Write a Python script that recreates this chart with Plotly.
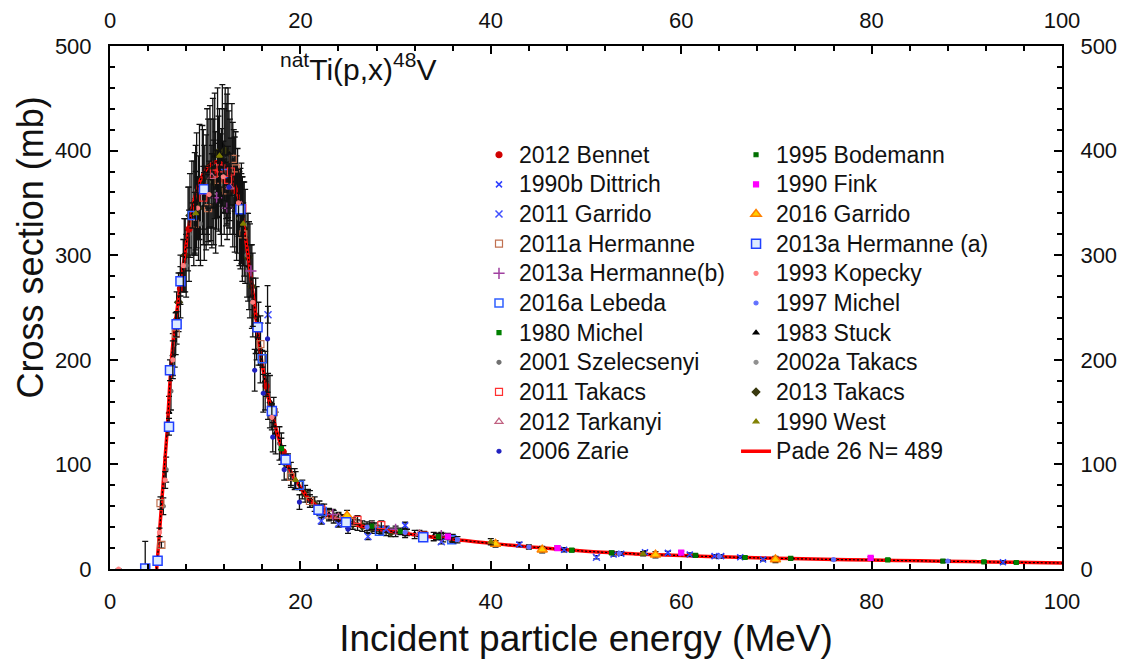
import plotly.graph_objects as go

# ---------------- data (energy MeV, cross section mb, error mb) ----------------
pade_E = [4.9, 5.2, 5.5, 5.75, 6.0, 6.25, 6.5, 6.75, 7.0, 7.5, 8.0, 8.5, 9.0, 9.5, 10.0,
          10.5, 11.0, 11.5, 12.0, 12.5, 13.0, 13.5, 14.0, 14.5, 15.0, 15.5, 16.0, 16.5,
          17.0, 17.5, 18.0, 19.0, 20.0, 21.0, 22.0, 23.0, 24.0, 25.0, 27.0, 30.0, 33.0,
          36.0, 40.0, 45.0, 50.0, 55.0, 60.0, 65.0, 70.0, 75.0, 80.0, 85.0, 90.0, 95.0, 100.0]
pade_xs = [0, 35, 72, 102, 132, 172, 205, 228, 245, 278, 310, 338, 358, 372, 381,
           386, 389, 389, 386, 380, 369, 356, 330, 300, 265, 228, 195, 170,
           150, 132, 117, 93, 78, 66, 58, 51, 47, 44, 40, 35.5, 31.5,
           28.5, 24.5, 20.5, 17, 14.5, 12.8, 11.4, 10.2, 9.3, 8.6, 7.8, 7.1, 6.4, 5.7]

bennet_E = [7.4, 8.3, 10.0, 11.3, 12.0, 13.1, 16.4, 18.2]
bennet_xs = [268, 325, 365, 380, 372, 362, 175, 112]
bennet_err = [15, 18, 20, 20, 20, 20, 10, 6]

bodemann_E = [27.5, 34.5, 52.7, 61.5, 71.5, 87.5]
bodemann_xs = [41, 31, 15.5, 13, 10.2, 7.6]
bodemann_err = [3, 3, 1.5, 1.2, 1, 1]

dittrich_E = [31.0, 43.0, 47.7, 52.9, 53.7, 56.2, 58.6, 60.9, 63.5, 64.2, 66.2, 68.6, 93.8]
dittrich_xs = [41.7, 23.4, 18.4, 13.9, 14.6, 16.1, 15.4, 13.8, 12.3, 12.3, 11.3, 9.1, 6.5]
dittrich_err = [3, 2, 2, 1.5, 1.5, 1.5, 1.5, 1.5, 1.5, 1.5, 1.2, 1.2, 1.5]

fink_E = [35.5, 47.0, 60.0, 79.9]
fink_xs = [31, 20, 15.6, 10.7]
fink_err = [3, 2, 1.5, 1]

garrido11_E = [16.6, 22.2, 24.0, 27.1, 29.0, 34.8, 51.1]
garrido11_xs = [243, 46, 43, 31, 38, 26, 11.3]
garrido11_err = [8, 3, 3, 3, 3, 2, 1.5]

garrido16_E = [24.9, 40.5, 45.4, 57.3, 69.9]
garrido16_xs = [51, 24, 18.5, 13.6, 9.1]
garrido16_err = [5, 3, 3, 3, 3]

herm11a_E = [5.3, 5.4, 6.9, 8.9, 10.3, 11.4, 12.2, 12.9, 13.2, 14.0, 15.8, 17.2, 19.0, 21.0, 23.0, 25.5]
herm11a_xs = [63, 23, 225, 330, 345, 372, 362, 392, 383, 320, 215, 150, 88, 65, 52, 45]
herm11a_err = [6, 3, 20, 30, 32, 35, 34, 35, 35, 30, 20, 14, 8, 6, 5, 4]

herm13a_E = [3.7, 5.0, 6.2, 6.3, 7.0, 7.4, 9.87, 13.7, 15.5, 17.0, 18.45, 21.9, 24.8, 32.9]
herm13a_xs = [0.5, 8, 136, 190, 234, 275, 363, 344, 231, 151, 104.5, 56.7, 44.8, 30.4]
herm13a_err = [26, 3, 8, 10, 12, 14, 16, 15, 10, 7, 5, 3, 3, 2]

herm13b_E = [11.2, 12.3, 14.8, 23.4, 30.0, 34.8]
herm13b_xs = [355, 345, 285, 52, 38, 32]
herm13b_err = [30, 30, 25, 5, 3, 3]

kopecky_E = [0.9, 5.2, 5.8, 6.6, 7.7, 9.2, 10.4, 11.9, 13.5, 15.0, 17.0]
kopecky_xs = [0, 35, 85, 200, 290, 345, 358, 375, 350, 255, 145]
kopecky_err = [0, 4, 8, 18, 25, 30, 32, 34, 32, 23, 12]

lebeda_E = [8.65, 12.0, 16.0, 19.9, 22.3, 28.3, 35.9]
lebeda_xs = [338, 378, 201, 80, 55, 36, 28]
lebeda_err = [12, 13, 8, 4, 3, 2, 2]

michel97_E = [27.0, 31.0, 36.5, 44.0, 53.5, 64.0, 76.0, 88.0]
michel97_xs = [40, 35, 28, 21, 15, 12, 9, 7.5]
michel97_err = [3, 3, 3, 2, 1.5, 1.5, 1, 1]

michel80_E = [18.0, 25.0, 30.5, 48.5, 66.7, 81.7, 91.8, 95.2]
michel80_xs = [115, 45, 36, 18, 11, 8.8, 6.9, 6.2]
michel80_err = [10, 4, 3, 1.5, 1, 1, 0.8, 0.8]

stuck_E = [6.2, 6.6, 7.0, 7.4, 7.8, 8.2, 8.6, 9.0, 9.4, 9.8, 10.2, 10.6, 11.0, 11.4, 11.8,
           12.2, 12.4, 12.6, 13.0, 13.4, 13.8, 14.2, 14.6, 15.0, 15.4, 15.8, 16.3, 16.8, 17.4,
           18.0, 18.7, 19.4, 20.2, 21.0, 22.0, 23.0, 24.0, 25.0, 26.0, 27.0, 28.0, 29.0,
           30.0, 31.0, 32.0, 33.0, 34.0, 35.0, 36.0]
stuck_xs = [150, 205, 240, 270, 300, 325, 345, 355, 370, 365, 380, 372, 395, 378, 405,
            390, 398, 375, 370, 352, 340, 318, 290, 262, 235, 210, 180, 160, 130,
            115, 98, 86, 76, 67, 58, 52, 47, 44, 42, 40, 38, 36,
            35, 34, 33, 32, 31, 30, 29]
stuck_err = [15, 20, 25, 30, 35, 40, 45, 50, 55, 55, 60, 58, 60, 55, 58,
             55, 62, 55, 50, 50, 48, 45, 42, 40, 35, 32, 28, 25, 20,
             15, 12, 10, 9, 8, 7, 6, 6, 5, 5, 5, 4, 4,
             4, 4, 4, 4, 4, 4, 4]

szel_E = [5.6, 5.9, 6.4, 6.8, 8.0, 8.3, 8.8, 9.1, 9.5, 9.9, 10.3, 10.7, 10.8, 11.1, 11.6,
          12.0, 12.3, 12.8, 13.1, 13.6, 13.9, 14.4, 14.7, 15.6, 16.6, 17.8, 19.0]
szel_xs = [60, 95, 170, 215, 290, 320, 340, 362, 330, 350, 370, 352, 388, 360, 368,
           380, 392, 395, 358, 335, 325, 300, 285, 225, 165, 120, 90]
szel_err = [8, 12, 18, 22, 30, 45, 50, 55, 40, 55, 60, 45, 62, 58, 48,
            60, 62, 50, 55, 45, 50, 40, 45, 30, 22, 16, 12]

tak02_E = [20.8, 24.3, 27.8, 31.2, 34.3, 36.0]
tak02_xs = [70, 48, 40, 35, 31, 29]
tak02_err = [6, 4, 4, 3, 3, 3]

tak11_E = [9.8, 10.9, 11.6, 12.4, 12.7, 13.9, 22.2, 26.0, 28.5, 33.0]
tak11_xs = [355, 378, 383, 372, 380, 345, 57, 47, 42, 32]
tak11_err = [30, 32, 33, 32, 32, 30, 5, 4, 4, 3]

tak13_E = [7.2, 7.9, 8.4, 8.9, 9.3, 9.7, 10.1, 10.5, 10.9, 11.3, 11.7, 12.1, 12.5, 12.9,
           13.3, 13.7, 14.1, 14.5, 14.9, 15.3, 20.5, 21.5, 22.5, 23.5, 24.5, 25.5, 26.5,
           27.5, 28.5, 29.5]
tak13_xs = [255, 300, 338, 350, 345, 372, 360, 385, 370, 398, 365, 400, 382, 360,
            345, 335, 325, 298, 270, 242, 72, 62, 56, 50, 46, 43, 41,
            39, 37, 35]
tak13_err = [28, 35, 40, 48, 50, 52, 55, 58, 60, 62, 56, 60, 56, 52,
             50, 48, 45, 42, 40, 36, 8, 7, 6, 6, 5, 5, 5,
             5, 4, 4]

tarkanyi_E = [10.7, 12.6, 13.8, 24.0, 27.5, 32.5]
tarkanyi_xs = [375, 365, 348, 50, 42, 34]
tarkanyi_err = [30, 32, 30, 4, 4, 3]

west_E = [9.0, 11.5, 14.0, 19.5, 40.0, 56.0]
west_xs = [340, 395, 330, 85, 26, 14.5]
west_err = [40, 45, 40, 8, 3, 2]

zarie_E = [12.5, 15.2, 16.1, 16.55, 17.1, 18.3, 19.9, 25.0]
zarie_xs = [365, 190, 168, 220, 126, 95, 64, 38]
zarie_err = [20, 20, 18, 51, 14, 10, 7, 4]

x_ticks = [0, 20, 40, 60, 80, 100]
y_ticks = [0, 100, 200, 300, 400, 500]

FONT = "Liberation Sans, Arial, sans-serif"
ERRC = "#111111"

fig = go.Figure()


def add_set(name, E, xs, err, symbol, size, color, legend, rank, fill=None, lw=1.2):
    mk = dict(symbol=symbol, size=size, color=fill if fill else color,
              line=dict(color=color, width=lw))
    fig.add_trace(go.Scatter(
        x=E, y=xs, mode="markers", marker=mk,
        error_y=dict(type="data", array=err, color=ERRC, thickness=1.3, width=3),
        name='<span style="font-size:23px">' + name + '</span>',
        legend=legend, legendrank=rank, cliponaxis=True))


# black, dense sets first (bottom layer)
add_set("1983 Stuck", stuck_E, stuck_xs, stuck_err, "triangle-up", 5, "#000000", "legend2", 7)
add_set("2013 Takacs", tak13_E, tak13_xs, tak13_err, "diamond", 6, "#3a3a10", "legend2", 9)
add_set("2001 Szelecsenyi", szel_E, szel_xs, szel_err, "circle", 4, "#707070", "legend", 8)
add_set("2002a Takacs", tak02_E, tak02_xs, tak02_err, "circle", 4, "#909090", "legend2", 8)

# Pade fit curve
fig.add_trace(go.Scatter(x=pade_E, y=pade_xs, mode="lines", line=dict(color="#ff0000", width=3.5, shape="spline"),
                         name='<span style="font-size:23px">Pade 26 N= 489</span>', legend="legend2", legendrank=11))
fig.add_trace(go.Scatter(x=pade_E, y=pade_xs, mode="lines",
                         line=dict(color="#000000", width=1.2, dash="2px,2px", shape="spline"),
                         showlegend=False, hoverinfo="skip"))

add_set("2012 Bennet", bennet_E, bennet_xs, bennet_err, "circle", 6, "#d00000", "legend", 1)
add_set("1990b Dittrich", dittrich_E, dittrich_xs, dittrich_err, "x-thin-open", 6, "#3040ff", "legend", 2, lw=1.5)
add_set("2011 Garrido", garrido11_E, garrido11_xs, garrido11_err, "x-thin-open", 7, "#4050ff", "legend", 3, lw=1.5)
add_set("2011a Hermanne", herm11a_E, herm11a_xs, herm11a_err, "square-open", 7, "#c07050", "legend", 4)
add_set("2013a Hermanne(b)", herm13b_E, herm13b_xs, herm13b_err, "cross-thin-open", 8, "#a040a0", "legend", 5, lw=1.5)
add_set("2016a Lebeda", lebeda_E, lebeda_xs, lebeda_err, "square-open", 8, "#3060ff", "legend", 6, lw=1.5)
add_set("1980 Michel", michel80_E, michel80_xs, michel80_err, "square", 4, "#008000", "legend", 7)
add_set("2011 Takacs", tak11_E, tak11_xs, tak11_err, "square-open", 7, "#ff3030", "legend", 9)
add_set("2012 Tarkanyi", tarkanyi_E, tarkanyi_xs, tarkanyi_err, "triangle-up-open", 7, "#c06080", "legend", 10)
add_set("2006 Zarie", zarie_E, zarie_xs, zarie_err, "circle", 4, "#2020c0", "legend", 11)

add_set("1995 Bodemann", bodemann_E, bodemann_xs, bodemann_err, "square", 4, "#007000", "legend2", 1)
add_set("1990 Fink", fink_E, fink_xs, fink_err, "square", 5, "#ff00ff", "legend2", 2)
add_set("2016 Garrido", garrido16_E, garrido16_xs, garrido16_err, "triangle-up", 9, "#ff8000", "legend2", 3, fill="#ffd000", lw=1.5)
add_set("2013a Hermanne (a)", herm13a_E, herm13a_xs, herm13a_err, "square", 9, "#2040ff", "legend2", 4, fill="#dcebff", lw=1.5)
add_set("1993 Kopecky", kopecky_E, kopecky_xs, kopecky_err, "circle", 4, "#ff8080", "legend2", 5)
add_set("1997 Michel", michel97_E, michel97_xs, michel97_err, "circle", 4, "#6070ff", "legend2", 6)
add_set("1990 West", west_E, west_xs, west_err, "triangle-up", 5, "#808000", "legend2", 10)

# invisible trace to activate top/right axes
fig.add_trace(go.Scatter(x=[0], y=[0], xaxis="x2", yaxis="y2", mode="markers",
                         marker=dict(opacity=0), showlegend=False, hoverinfo="skip"))

tickfont = dict(family=FONT, size=22, color="#111111")
common = dict(showline=True, linewidth=2, linecolor="black", ticks="inside", ticklen=8,
              tickwidth=1.5, tickcolor="black", showgrid=False, zeroline=False,
              tickfont=tickfont, automargin=False)
minor_x = dict(dtick=4, ticks="inside", ticklen=5, tickwidth=1.5, tickcolor="black")
minor_y = dict(dtick=20, ticks="inside", ticklen=5, tickwidth=1.5, tickcolor="black")

fig.update_layout(
    width=1122, height=661,
    margin=dict(l=102, r=68, t=38, b=100),
    paper_bgcolor="white", plot_bgcolor="white",
    font=dict(family=FONT, color="#111111"),
    xaxis=dict(range=[0, 100], tickvals=x_ticks, **common, minor=minor_x, ticklabelstandoff=12,
               title=dict(text="Incident particle energy (MeV)", font=dict(family=FONT, size=37), standoff=12)),
    xaxis2=dict(range=[0, 100], tickvals=x_ticks, overlaying="x", side="top", **common, minor=minor_x,
                ticklabelstandoff=7),
    yaxis=dict(range=[0, 500], tickvals=y_ticks, **common, minor=minor_y, ticklabelstandoff=12),
    yaxis2=dict(range=[0, 500], tickvals=y_ticks, overlaying="y", side="right", **common, minor=minor_y,
                ticklabelstandoff=12),
    legend=dict(x=0.3876, y=0.83, xanchor="left", yanchor="top", bgcolor="rgba(0,0,0,0)",
                font=dict(family=FONT, size=20.5, color="#111111"), itemsizing="trace"),
    legend2=dict(x=0.6576, y=0.83, xanchor="left", yanchor="top", bgcolor="rgba(0,0,0,0)",
                 font=dict(family=FONT, size=20.5, color="#111111"), itemsizing="trace"),
    annotations=[
        dict(text="<sup>nat</sup>Ti(p,x)<sup>48</sup>V", xref="paper", yref="paper",
             x=0.1765, y=0.96, xanchor="left", yanchor="middle", showarrow=False,
             font=dict(family=FONT, size=30, color="#111111")),
        dict(text="Cross section (mb)", xref="paper", yref="paper", textangle=-90,
             x=-0.084, y=0.615, xanchor="center", yanchor="middle", showarrow=False,
             font=dict(family=FONT, size=36, color="#111111")),
    ],
    showlegend=True,
)

fig.write_html("out.html")
